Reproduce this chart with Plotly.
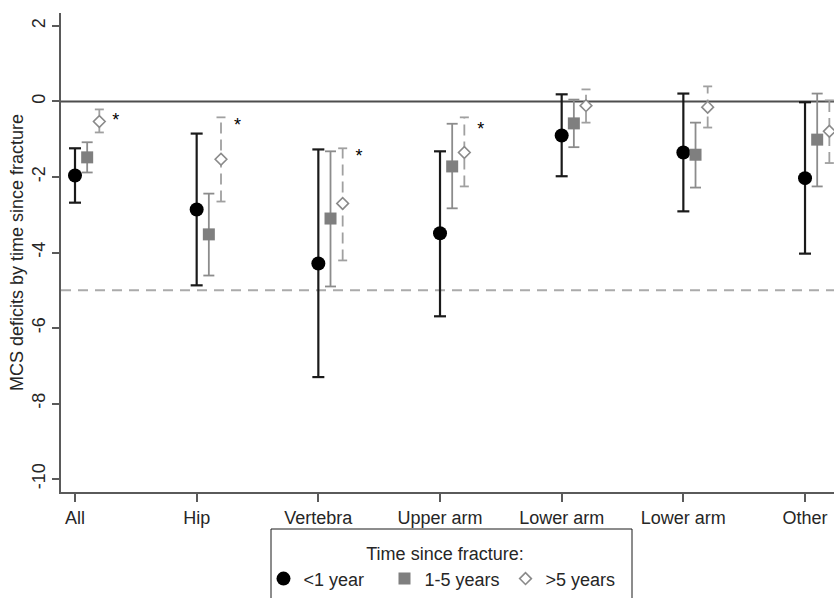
import plotly.graph_objects as go

# ---------------- data ----------------
categories = ["All", "Hip", "Vertebra", "Upper arm", "Lower arm", "Lower arm", "Other"]
positions = [1, 2, 3, 4, 5, 6, 7]

lt1_est = [-1.96, -2.86, -4.29, -3.49, -0.90, -1.35, -2.03]
lt1_hi = [-1.24, -0.85, -1.27, -1.32, 0.19, 0.21, -0.02]
lt1_lo = [-2.68, -4.87, -7.30, -5.69, -1.98, -2.91, -4.03]

y15_est = [-1.48, -3.52, -3.10, -1.72, -0.58, -1.41, -1.01]
y15_hi = [-1.08, -2.44, -1.32, -0.59, 0.05, -0.56, 0.21]
y15_lo = [-1.88, -4.61, -4.90, -2.83, -1.21, -2.28, -2.25]

gt5_est = [-0.53, -1.53, -2.70, -1.35, -0.11, -0.15, -0.79]
gt5_hi = [-0.21, -0.42, -1.24, -0.42, 0.32, 0.40, 0.03]
gt5_lo = [-0.82, -2.65, -4.21, -2.25, -0.56, -0.69, -1.63]

star_pos = [1, 2, 3, 4]
star_y = [-0.52, -0.66, -1.48, -0.76]

ref_zero = 0
ref_mcid = -5

# ---------------- style ----------------
PX_PER_UNIT = 121.67
offsets = [0.0, 0.1, 0.2]
FONT = "Liberation Sans, Arial, sans-serif"
FIG_W, FIG_H = 834, 598
ML, MT = 61, 13
PLOT_BOTTOM = 492
MB = FIG_H - PLOT_BOTTOM
plot_h = FIG_H - MT - MB
plot_w = FIG_W - ML


def px_x(px):
    return (px - ML) / plot_w


def px_y(py):
    return (PLOT_BOTTOM - py) / plot_h


fig = go.Figure()


def add_ci(xs, lo, hi, color, width, cap_px, dash):
    cap = cap_px / PX_PER_UNIT
    sx, sy, cx, cy = [], [], [], []
    for x, l, h in zip(xs, lo, hi):
        sx += [x, x, None]
        sy += [l, h, None]
        cx += [x - cap, x + cap, None, x - cap, x + cap, None]
        cy += [l, l, None, h, h, None]
    fig.add_trace(go.Scatter(x=sx, y=sy, mode="lines", showlegend=False, hoverinfo="skip",
                             line=dict(color=color, width=width, dash=dash)))
    fig.add_trace(go.Scatter(x=cx, y=cy, mode="lines", showlegend=False, hoverinfo="skip",
                             line=dict(color=color, width=width)))


series = [
    ("<1 year", lt1_est, lt1_lo, lt1_hi, dict(symbol="circle", size=14, color="black"),
     "#1a1a1a", 2.2, 6, "solid"),
    ("1-5 years", y15_est, y15_lo, y15_hi, dict(symbol="square", size=12, color="#7f7f7f"),
     "#8c8c8c", 1.8, 5.5, "solid"),
    (">5 years", gt5_est, gt5_lo, gt5_hi,
     dict(symbol="diamond", size=9, color="white", line=dict(color="#8a8a8a", width=1.6)),
     "#a0a0a0", 1.8, 4.5, "11px,6px"),
]

for i, (name, est, lo, hi, marker, ccol, cw, cap, dash) in enumerate(series):
    xs = [p + offsets[i] for p in positions]
    add_ci(xs, lo, hi, ccol, cw, cap, dash)
    fig.add_trace(go.Scatter(x=xs, y=est, mode="markers", name=name, marker=marker))

fig.add_trace(go.Scatter(x=[p + 0.335 for p in star_pos], y=star_y, mode="text", text=["*"] * len(star_pos),
                         textfont=dict(family=FONT, size=18, color="black"), showlegend=False,
                         hoverinfo="skip"))

fig.add_hline(y=ref_zero, line=dict(color="#4d4d4d", width=2), layer="below")
fig.add_hline(y=ref_mcid, line=dict(color="#ababab", width=1.8, dash="10px,7px"), layer="below")

# legend frame
fig.add_shape(type="rect", xref="paper", yref="paper",
              x0=px_x(271), x1=px_x(632), y0=px_y(529), y1=px_y(640),
              line=dict(color="#1a1a1a", width=1), fillcolor="rgba(0,0,0,0)", layer="above")

fig.update_layout(
    width=FIG_W, height=FIG_H,
    margin=dict(l=ML, r=0, t=MT, b=MB, autoexpand=False),
    plot_bgcolor="white", paper_bgcolor="white",
    font=dict(family=FONT, size=18, color="#262626"),
    showlegend=True,
    legend=dict(
        orientation="h", x=px_x(445), xanchor="center",
        y=px_y(537), yanchor="top",
        borderwidth=0, entrywidth=76, bgcolor="rgba(0,0,0,0)",
        title=dict(text="Time since fracture:", side="top center", font=dict(size=18)),
        font=dict(size=18), itemclick=False,
    ),
    xaxis=dict(
        range=[1 - 14 / PX_PER_UNIT, 1 + (plot_w - 14) / PX_PER_UNIT],
        tickvals=positions, ticktext=categories, showgrid=False, zeroline=False,
        showline=True, linecolor="#5a5a5a", linewidth=2, automargin=False,
        ticks="outside", ticklen=8, tickwidth=1.5, tickcolor="#5a5a5a",
    ),
    yaxis=dict(
        range=[-10.344, 2.344], tickvals=[2, 0, -2, -4, -6, -8, -10],
        ticktext=["2", "0", "-2", "-4", "-6", "-8", "-10"],
        tickangle=-90, showgrid=False, zeroline=False, automargin=False,
        showline=True, linecolor="#5a5a5a", linewidth=2,
        ticks="outside", ticklen=7, tickwidth=1.5, tickcolor="#5a5a5a",
        title=dict(text="MCS deficits by time since fracture", standoff=0, font=dict(size=18)),
    ),
)

fig.write_html("out.html", config={"displayModeBar": False},
               post_script="document.body.style.margin='0';document.body.style.overflow='hidden';")
